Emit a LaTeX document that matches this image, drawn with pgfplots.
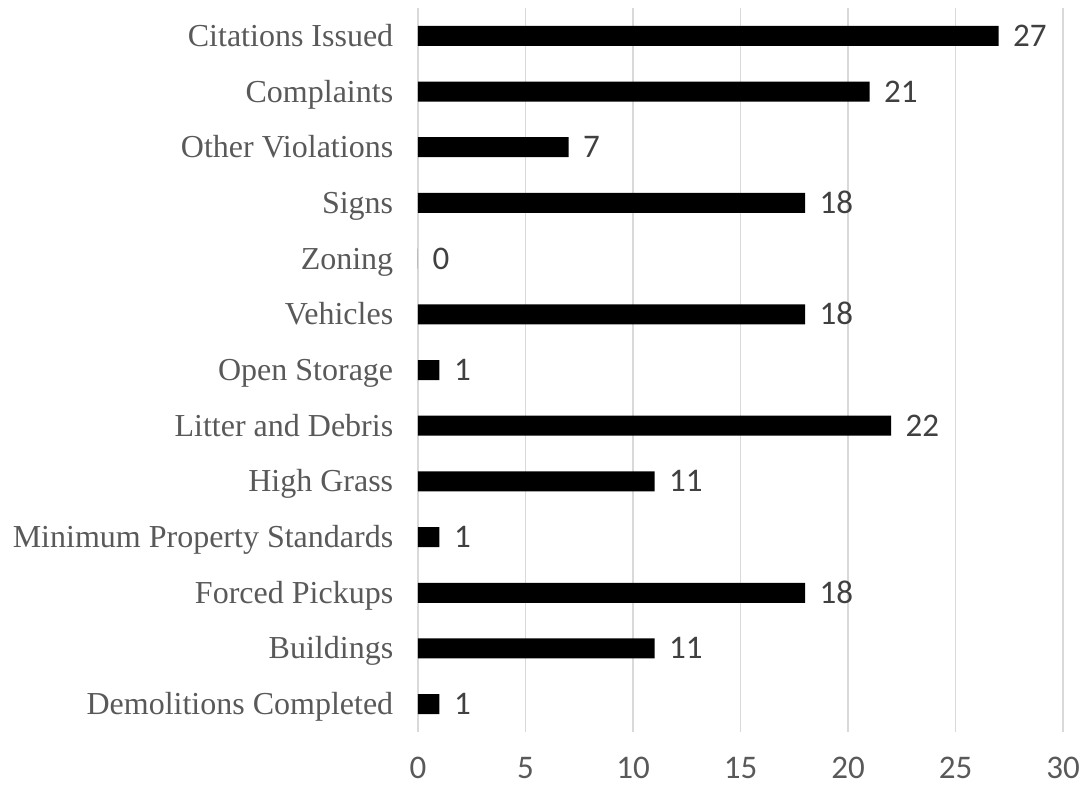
\documentclass[border=0pt]{standalone}
\usepackage{fontspec}
\setmainfont{Liberation Serif}
\newfontfamily\carl{Carlito}
\usepackage{pgfplots}
\pgfplotsset{compat=1.18}
\definecolor{lblgray}{HTML}{595959}
\definecolor{valgray}{HTML}{404040}
\definecolor{gridgray}{HTML}{D9D9D9}
\begin{document}
\begin{tikzpicture}
\begin{axis}[
  at={(418pt,56pt)}, anchor=south west,
  scale only axis,
  width=645pt, height=724pt,
  xbar, bar width=20pt,
  xmin=0, xmax=30,
  ymin=-0.5, ymax=12.5,
  xtick={0,5,10,15,20,25,30},
  ytick={0,...,12},
  yticklabels={Demolitions Completed,Buildings,Forced Pickups,Minimum Property Standards,High Grass,Litter and Debris,Open Storage,Vehicles,Zoning,Signs,Other Violations,Complaints,Citations Issued},
  xmajorgrids, major grid style={gridgray, line width=1.3pt},
  axis line style={draw=none},
  tick style={draw=none},
  /pgf/number format/assume math mode=true,
  xticklabel style={font=\fontsize{33}{38}\selectfont\carl, text=lblgray, yshift=-22pt},
  yticklabel style={font=\fontsize{32}{38}\selectfont, text=lblgray, xshift=-17pt, text height=28pt, text depth=7pt},
  nodes near coords,
  nodes near coords style={font=\fontsize{33}{38}\selectfont\carl, text=valgray, anchor=west, xshift=11pt, text height=21pt, text depth=0pt},
  point meta=explicit symbolic,
]
\addplot[fill=black, draw=none] coordinates {
  (1,0) [1]
  (11,1) [11]
  (18,2) [18]
  (1,3) [1]
  (11,4) [11]
  (22,5) [22]
  (1,6) [1]
  (18,7) [18]
  (0,8) [0]
  (18,9) [18]
  (7,10) [7]
  (21,11) [21]
  (27,12) [27]
};
\end{axis}
\pgfresetboundingbox
\path[use as bounding box] (0,0) rectangle (1084pt,788pt);
\end{tikzpicture}
\end{document}
